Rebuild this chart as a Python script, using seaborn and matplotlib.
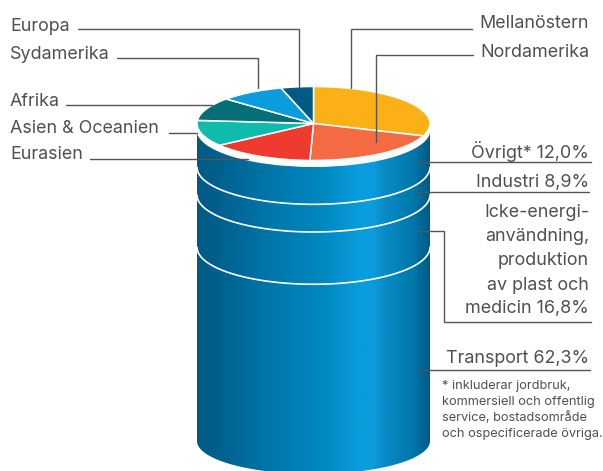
import numpy as np
import matplotlib
matplotlib.use("Agg")
import matplotlib.pyplot as plt
from matplotlib.colors import LinearSegmentedColormap
from matplotlib.patches import Ellipse, Polygon
import seaborn as sns

# ---------- data ----------
regioner = ["Mellanöstern", "Nordamerika", "Eurasien", "Asien & Oceanien",
            "Afrika", "Sydamerika", "Europa"]
region_andel = [30.5, 20.1, 14.5, 11.4, 10.2, 9.0, 4.5]
region_farg = ["#fcb017", "#f46a43", "#ef3a30", "#0fbcab", "#056e77", "#0a9cdc", "#035a85"]

sektorer = ["Övrigt*", "Industri", "Icke-energi", "Transport"]
sektor_andel = [12.0, 8.9, 16.8, 62.3]

# ---------- setup ----------
sns.set_theme(style="white")
plt.rcParams["font.family"] = ["Inter", "DejaVu Sans"]

W, H = 603, 471
CX, RX, RY = 313.5, 116.5, 37
PIE_Y, TOP_Y, BOTTOM_Y = 123.5, 130, 441
TXT = "#505050"
LINE = "#555555"

fig = plt.figure(figsize=(W / 100, H / 100), dpi=100, facecolor="white")
ax = fig.add_axes([0, 0, 1, 1])

# ---------- cylinder body ----------
stops = [(0.0, "#005a85"), (0.08, "#005f8c"), (0.3, "#0075a8"), (0.53, "#0087c0"),
         (0.7, "#0a9cdc"), (0.76, "#0a9cdc"), (0.8, "#0a8cc8"), (0.93, "#0077a8"), (1.0, "#005a85")]
cmap = LinearSegmentedColormap.from_list("cyl", stops)
img = ax.imshow(np.linspace(0, 1, 256).reshape(1, -1), cmap=cmap, aspect="auto",
                extent=[CX - RX, CX + RX, BOTTOM_Y + RY, TOP_Y], zorder=1)
t = np.linspace(np.pi, 0, 100)
body = np.vstack([[CX - RX, TOP_Y], [CX + RX, TOP_Y],
                  np.c_[CX - RX * np.cos(t), BOTTOM_Y + 33 * np.sin(t)]])
clip = Polygon(body, closed=True, transform=ax.transData)
img.set_clip_path(clip)

# white rim under the pie
ax.add_patch(Ellipse((CX, TOP_Y), 2 * RX + 1, 2 * RY, fc="white", ec="none", zorder=2))

# section lines follow the shares
hojd = BOTTOM_Y - TOP_Y
for c in np.cumsum(sektor_andel)[:-1]:
    y = TOP_Y + c / 100 * hojd
    ax.plot(CX - RX * np.cos(t), y + RY * np.sin(t), color="white", lw=1.2, zorder=2)

# ---------- pie on top, squashed ----------
pie_ax = ax.inset_axes([(CX - RX) / W, 1 - (PIE_Y + RY) / H, 2 * RX / W, 2 * RY / H], zorder=3)
pie_ax.pie(region_andel, colors=region_farg, startangle=90, counterclock=False, radius=1,
           wedgeprops=dict(edgecolor="white", linewidth=1.1))
pie_ax.set_aspect("auto")
pie_ax.set_xlim(-1, 1)
pie_ax.set_ylim(-1, 1)

# ---------- leader lines ----------
leaders = [
    ([78, 299, 299], [29, 29, 87]),
    ([117, 258, 258], [58, 58, 88]),
    ([66, 212], [105, 105]),
    ([169, 197], [133, 133]),
    ([90, 248], [159, 159]),
    ([472, 351, 351], [29, 29, 88]),
    ([473, 375.5, 375.5], [55, 55, 142]),
    ([417, 591], [161.5, 161.5]),
    ([417, 589], [192, 192]),
    ([417, 444, 444, 591], [231, 231, 322, 322]),
    ([417, 590], [370, 370]),
]
for xs, ys in leaders:
    ax.plot(xs, ys, color=LINE, lw=1.0, zorder=6, solid_joinstyle="miter")

# ---------- labels ----------
FS = 12.9
vanster = [("Europa", 31), ("Sydamerika", 59), ("Afrika", 106.5),
           ("Asien & Oceanien", 133), ("Eurasien", 159)]
for s, y in vanster:
    ax.text(10, y, s, fontsize=FS, color=TXT, ha="left", va="baseline", zorder=7)

hoger = [("Mellanöstern", 28), ("Nordamerika", 57), ("Övrigt* 12,0%", 158), ("Industri 8,9%", 187),
         ("Icke-energi-", 217), ("användning,", 241), ("produktion", 265), ("av plast och", 290),
         ("medicin 16,8%", 313.5), ("Transport 62,3%", 363)]
for s, y in hoger:
    ax.text(589, y, s, fontsize=FS, color=TXT, ha="right", va="baseline", zorder=7)

fot = ["* inkluderar jordbruk,", "kommersiell och offentlig",
       "service, bostadsområde", "och ospecificerade övriga."]
for s, y in zip(fot, [389, 405, 421, 437]):
    ax.text(442, y, s, fontsize=9.2, color=TXT, ha="left", va="baseline", zorder=7)

ax.set_xlim(0, W)
ax.set_ylim(H, 0)
ax.axis("off")

fig.savefig("out.png", dpi=100)
